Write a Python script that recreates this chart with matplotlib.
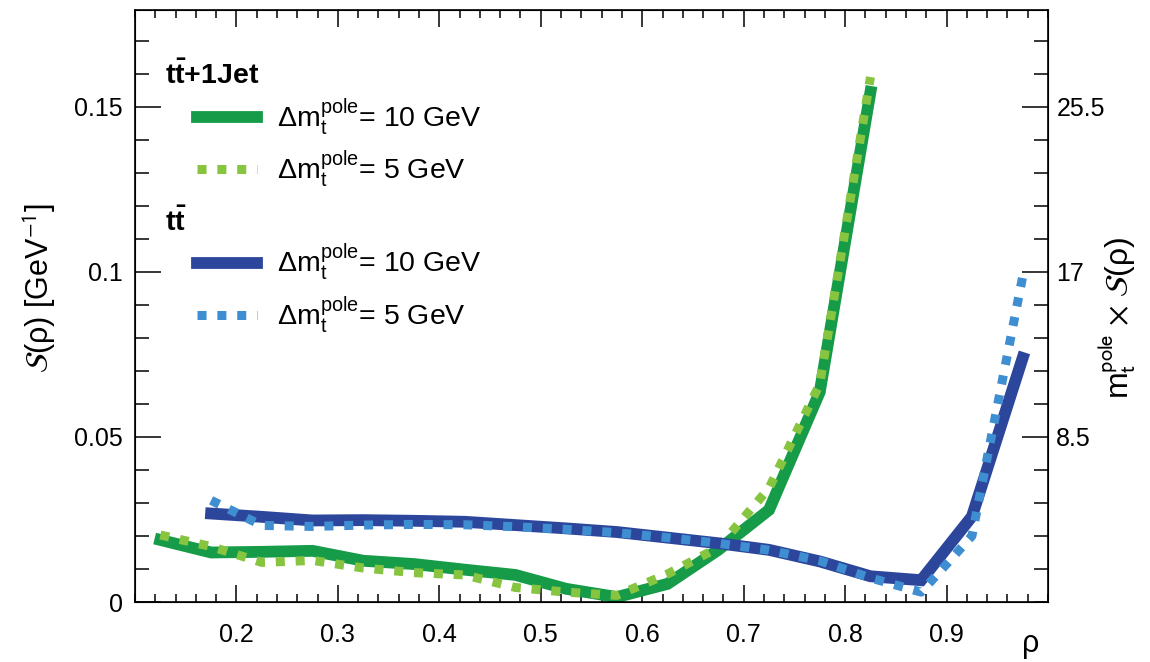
import matplotlib.pyplot as plt
from matplotlib.ticker import MultipleLocator, FixedLocator

plt.rcParams['font.family'] = ['Liberation Sans', 'DejaVu Sans']
plt.rcParams['mathtext.fontset'] = 'custom'
plt.rcParams['mathtext.rm'] = 'Liberation Sans'
plt.rcParams['mathtext.it'] = 'Liberation Sans:italic'
plt.rcParams['mathtext.bf'] = 'Liberation Sans:bold'

mt_pole = 170.0

rho_jet = [0.125, 0.175, 0.225, 0.275, 0.325, 0.375, 0.425, 0.475,
           0.525, 0.575, 0.625, 0.675, 0.725, 0.775, 0.825]
jet_10 = [0.0188, 0.0150, 0.0152, 0.0155, 0.0125, 0.0115, 0.0098, 0.0082,
          0.0040, 0.0015, 0.0055, 0.0158, 0.0279, 0.0636, 0.1545]
jet_5 = [0.0203, 0.0168, 0.0120, 0.0126, 0.0103, 0.0089, 0.0082, 0.0044,
         0.0030, 0.0020, 0.0085, 0.0165, 0.0345, 0.0660, 0.1590]

rho_tt = [0.175, 0.225, 0.275, 0.325, 0.375, 0.425, 0.475, 0.525, 0.575,
          0.625, 0.675, 0.725, 0.775, 0.825, 0.875, 0.925, 0.975]
tt_10 = [0.0268, 0.0258, 0.0247, 0.0248, 0.0246, 0.0243, 0.0233, 0.0223, 0.0212,
         0.0195, 0.0178, 0.0158, 0.0123, 0.0078, 0.0066, 0.0259, 0.0739]
tt_5 = [0.0308, 0.0232, 0.0229, 0.0233, 0.0235, 0.0234, 0.0228, 0.0220, 0.0210,
        0.0195, 0.0178, 0.0157, 0.0125, 0.0073, 0.0030, 0.0200, 0.0985]

c_jet10 = '#169b48'
c_jet5 = '#87c440'
c_tt10 = '#2c469b'
c_tt5 = '#3f8ed1'

lw_solid = 8.5
lw_dot = 6.5
dots = (0, (1, 1.2))

fig = plt.figure(figsize=(11.5, 6.62), dpi=100)
ax = fig.add_axes([0.1174, 0.0906, 0.7939, 0.8943])

l1, = ax.plot(rho_jet, jet_10, color=c_jet10, lw=lw_solid, solid_joinstyle='miter')
l2, = ax.plot(rho_jet, jet_5, color=c_jet5, lw=lw_dot, linestyle=dots)
l3, = ax.plot(rho_tt, tt_10, color=c_tt10, lw=lw_solid, solid_joinstyle='miter')
l4, = ax.plot(rho_tt, tt_5, color=c_tt5, lw=lw_dot, linestyle=dots)

ymax = 0.1793
ax.set_xlim(0.1, 1.0)
ax.set_ylim(0, ymax)

ax.xaxis.set_major_locator(FixedLocator([0.2, 0.3, 0.4, 0.5, 0.6, 0.7, 0.8, 0.9]))
ax.xaxis.set_minor_locator(MultipleLocator(0.02))
ax.yaxis.set_major_locator(FixedLocator([0, 0.05, 0.1, 0.15]))
ax.yaxis.set_minor_locator(MultipleLocator(0.01))
ax.set_xticklabels(['0.2', '0.3', '0.4', '0.5', '0.6', '0.7', '0.8', '0.9'])
ax.set_yticklabels(['0', '0.05', '0.1', '0.15'])

ax.tick_params(axis='x', which='major', direction='in', length=12, width=1.1,
               top=True, labelsize=18, pad=15)
ax.tick_params(axis='x', which='minor', direction='in', length=6, width=1.1, top=True)
ax.tick_params(axis='y', which='major', direction='in', length=19, width=1.1,
               right=False, labelsize=18, pad=9)
ax.tick_params(axis='y', which='minor', direction='in', length=10, width=1.1, right=False)
for s in ax.spines.values():
    s.set_linewidth(1.2)

ax2 = ax.twinx()
ax2.set_ylim(0, ymax * mt_pole)
ax2.yaxis.set_major_locator(FixedLocator([8.5, 17, 25.5]))
ax2.yaxis.set_minor_locator(MultipleLocator(1.7))
ax2.set_yticklabels(['8.5', '17', '25.5'])
ax2.tick_params(axis='y', which='major', direction='in', length=19, width=1.1,
                labelsize=18, pad=6)
ax2.tick_params(axis='y', which='minor', direction='in', length=10, width=1.1)

ax.set_ylabel(r'$\mathcal{S}$(ρ) [GeV$^{-1}$]', fontsize=22,
              math_fontfamily='stixsans')
ax.yaxis.set_label_coords(-0.084, 0.53)
ax2.set_ylabel(r'm$_\mathrm{t}^\mathrm{pole}$$\,\times\,$$\mathcal{S}$(ρ)', fontsize=23,
               math_fontfamily='stixsans')
ax2.yaxis.set_label_coords(1.052, 0.48)
ax.set_xlabel('ρ', fontsize=22, loc='right')
ax.xaxis.set_label_coords(0.991, -0.045)

ax.text(0.033, 0.89, r'$\mathbf{t\bar{t}}$+1Jet', transform=ax.transAxes,
        fontsize=20.5, fontweight='bold', ha='left', va='center')
ax.text(0.033, 0.642, r'$\mathbf{t\bar{t}}$', transform=ax.transAxes,
        fontsize=20.5, fontweight='bold', ha='left', va='center')

lab10 = r'Δm$_\mathrm{t}^\mathrm{pole}$= 10 GeV'
lab5 = r'Δm$_\mathrm{t}^\mathrm{pole}$= 5 GeV'
leg_kw = dict(frameon=False, fontsize=20.5, handlelength=2.1, handletextpad=0.7,
              labelspacing=0.4, borderpad=0, borderaxespad=0, loc='center left')

leg1 = ax.legend([l1, l2], [lab10, lab5], bbox_to_anchor=(0.068, 0.775), **leg_kw)
ax.add_artist(leg1)
leg2 = ax.legend([l3, l4], [lab10, lab5], bbox_to_anchor=(0.068, 0.529), **leg_kw)

fig.savefig('out.png', dpi=100)
